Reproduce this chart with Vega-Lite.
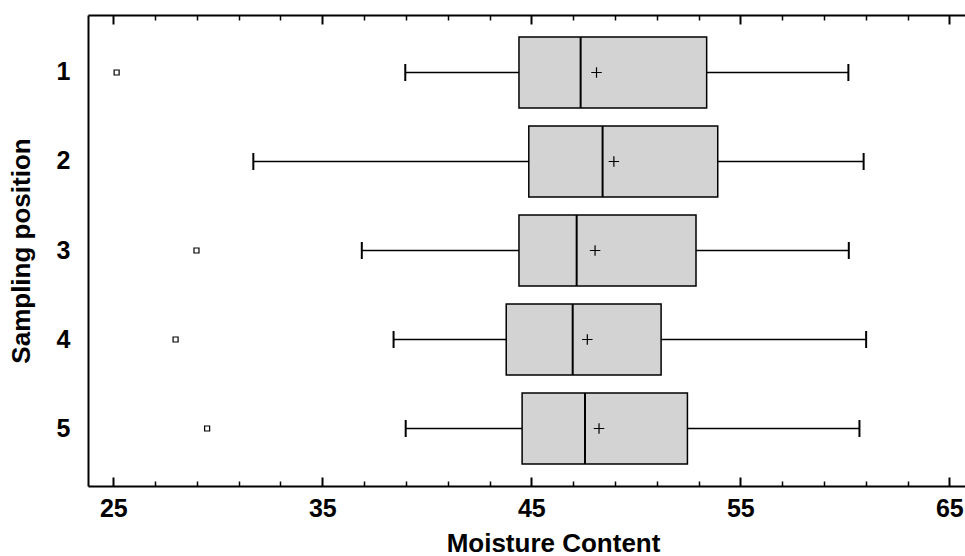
{
  "$schema": "https://vega.github.io/schema/vega-lite/v6.json",
  "width": 877,
  "height": 471,
  "autosize": {"type": "none"},
  "padding": {"left": 88, "top": 15, "right": 0, "bottom": 70},
  "background": "white",
  "config": {
    "view": {"stroke": null},
    "font": "Liberation Sans",
    "axis": {"domainColor": "black", "tickColor": "black", "labelColor": "black", "titleColor": "black", "grid": false, "labelFont": "Liberation Sans", "titleFont": "Liberation Sans", "labelFontWeight": "bold", "titleFontWeight": "bold"}
  },
  "datasets": {
    "boxes": [
      {"pos": "1", "lo": 38.97, "q1": 44.41, "med": 47.36, "mean": 48.12, "q3": 53.39, "hi": 60.17},
      {"pos": "2", "lo": 31.70, "q1": 44.88, "med": 48.41, "mean": 48.95, "q3": 53.92, "hi": 60.90},
      {"pos": "3", "lo": 36.89, "q1": 44.41, "med": 47.17, "mean": 48.05, "q3": 52.88, "hi": 60.19},
      {"pos": "4", "lo": 38.41, "q1": 43.80, "med": 46.98, "mean": 47.68, "q3": 51.21, "hi": 61.02},
      {"pos": "5", "lo": 38.99, "q1": 44.56, "med": 47.57, "mean": 48.24, "q3": 52.47, "hi": 60.70}
    ],
    "outliers": [
      {"pos": "1", "value": 25.16},
      {"pos": "3", "value": 28.98},
      {"pos": "4", "value": 27.98},
      {"pos": "5", "value": 29.49}
    ]
  },
  "resolve": {"axis": {"x": "independent"}},
  "encoding": {
    "y": {
      "field": "pos", "type": "nominal",
      "scale": {"domain": ["1", "2", "3", "4", "5"], "paddingInner": 0, "paddingOuter": 0.146},
      "axis": {"title": "Sampling position", "ticks": false, "domainWidth": 2, "labelFontSize": 25, "labelPadding": 18, "titleFontSize": 26, "titlePadding": 22, "labelAngle": 0}
    }
  },
  "layer": [
    {
      "data": {"name": "boxes"},
      "mark": {"type": "rule", "color": "black", "strokeWidth": 1.5, "opacity": 1},
      "encoding": {
        "x": {"field": "lo", "type": "quantitative", "scale": {"domain": [23.79, 65.75], "nice": false, "zero": false},
          "axis": {"orient": "bottom", "values": [25, 35, 45, 55, 65], "tickSize": -9, "tickWidth": 2, "domainWidth": 2, "labelFontSize": 25, "labelPadding": 19, "labelFlush": false, "title": "Moisture Content", "titleFontSize": 26, "titleX": 465, "titlePadding": 9}},
        "x2": {"field": "hi"}
      }
    },
    {
      "data": {"name": "boxes"},
      "mark": {"type": "bar", "fill": "#d3d3d3", "stroke": "black", "strokeWidth": 1.5, "size": 71, "opacity": 1},
      "encoding": {
        "x": {"field": "q1", "type": "quantitative",
          "axis": {"orient": "bottom", "values": [27, 29, 31, 33, 37, 39, 41, 43, 47, 49, 51, 53, 57, 59, 61, 63, 67], "tickSize": -5, "tickWidth": 1.5, "domain": false, "labels": false, "title": null}},
        "x2": {"field": "q3"}
      }
    },
    {
      "data": {"name": "boxes"},
      "mark": {"type": "tick", "color": "black", "thickness": 2, "size": 71, "opacity": 1},
      "encoding": {
        "x": {"field": "med", "type": "quantitative",
          "axis": {"orient": "top", "values": [25, 35, 45, 55, 65], "tickSize": -9, "tickWidth": 2, "domainWidth": 2, "labels": false, "title": null}}
      }
    },
    {
      "data": {"name": "boxes"},
      "mark": {"type": "tick", "color": "black", "thickness": 2, "size": 17, "opacity": 1},
      "encoding": {
        "x": {"field": "lo", "type": "quantitative",
          "axis": {"orient": "top", "values": [27, 29, 31, 33, 37, 39, 41, 43, 47, 49, 51, 53, 57, 59, 61, 63, 67], "tickSize": -5, "tickWidth": 1.5, "domain": false, "labels": false, "title": null}}
      }
    },
    {
      "data": {"name": "boxes"},
      "mark": {"type": "tick", "color": "black", "thickness": 2, "size": 17, "opacity": 1},
      "encoding": {
        "x": {"field": "hi", "type": "quantitative", "axis": null}
      }
    },
    {
      "data": {"name": "boxes"},
      "mark": {"type": "point", "shape": "M-1,0H1M0,-1V1", "filled": false, "stroke": "black", "strokeWidth": 1.2, "size": 110, "opacity": 1},
      "encoding": {
        "x": {"field": "mean", "type": "quantitative", "axis": null}
      }
    },
    {
      "data": {"name": "outliers"},
      "mark": {"type": "point", "shape": "square", "filled": false, "stroke": "black", "strokeWidth": 1.2, "size": 25, "opacity": 1},
      "encoding": {
        "x": {"field": "value", "type": "quantitative", "axis": null}
      }
    }
  ]
}
